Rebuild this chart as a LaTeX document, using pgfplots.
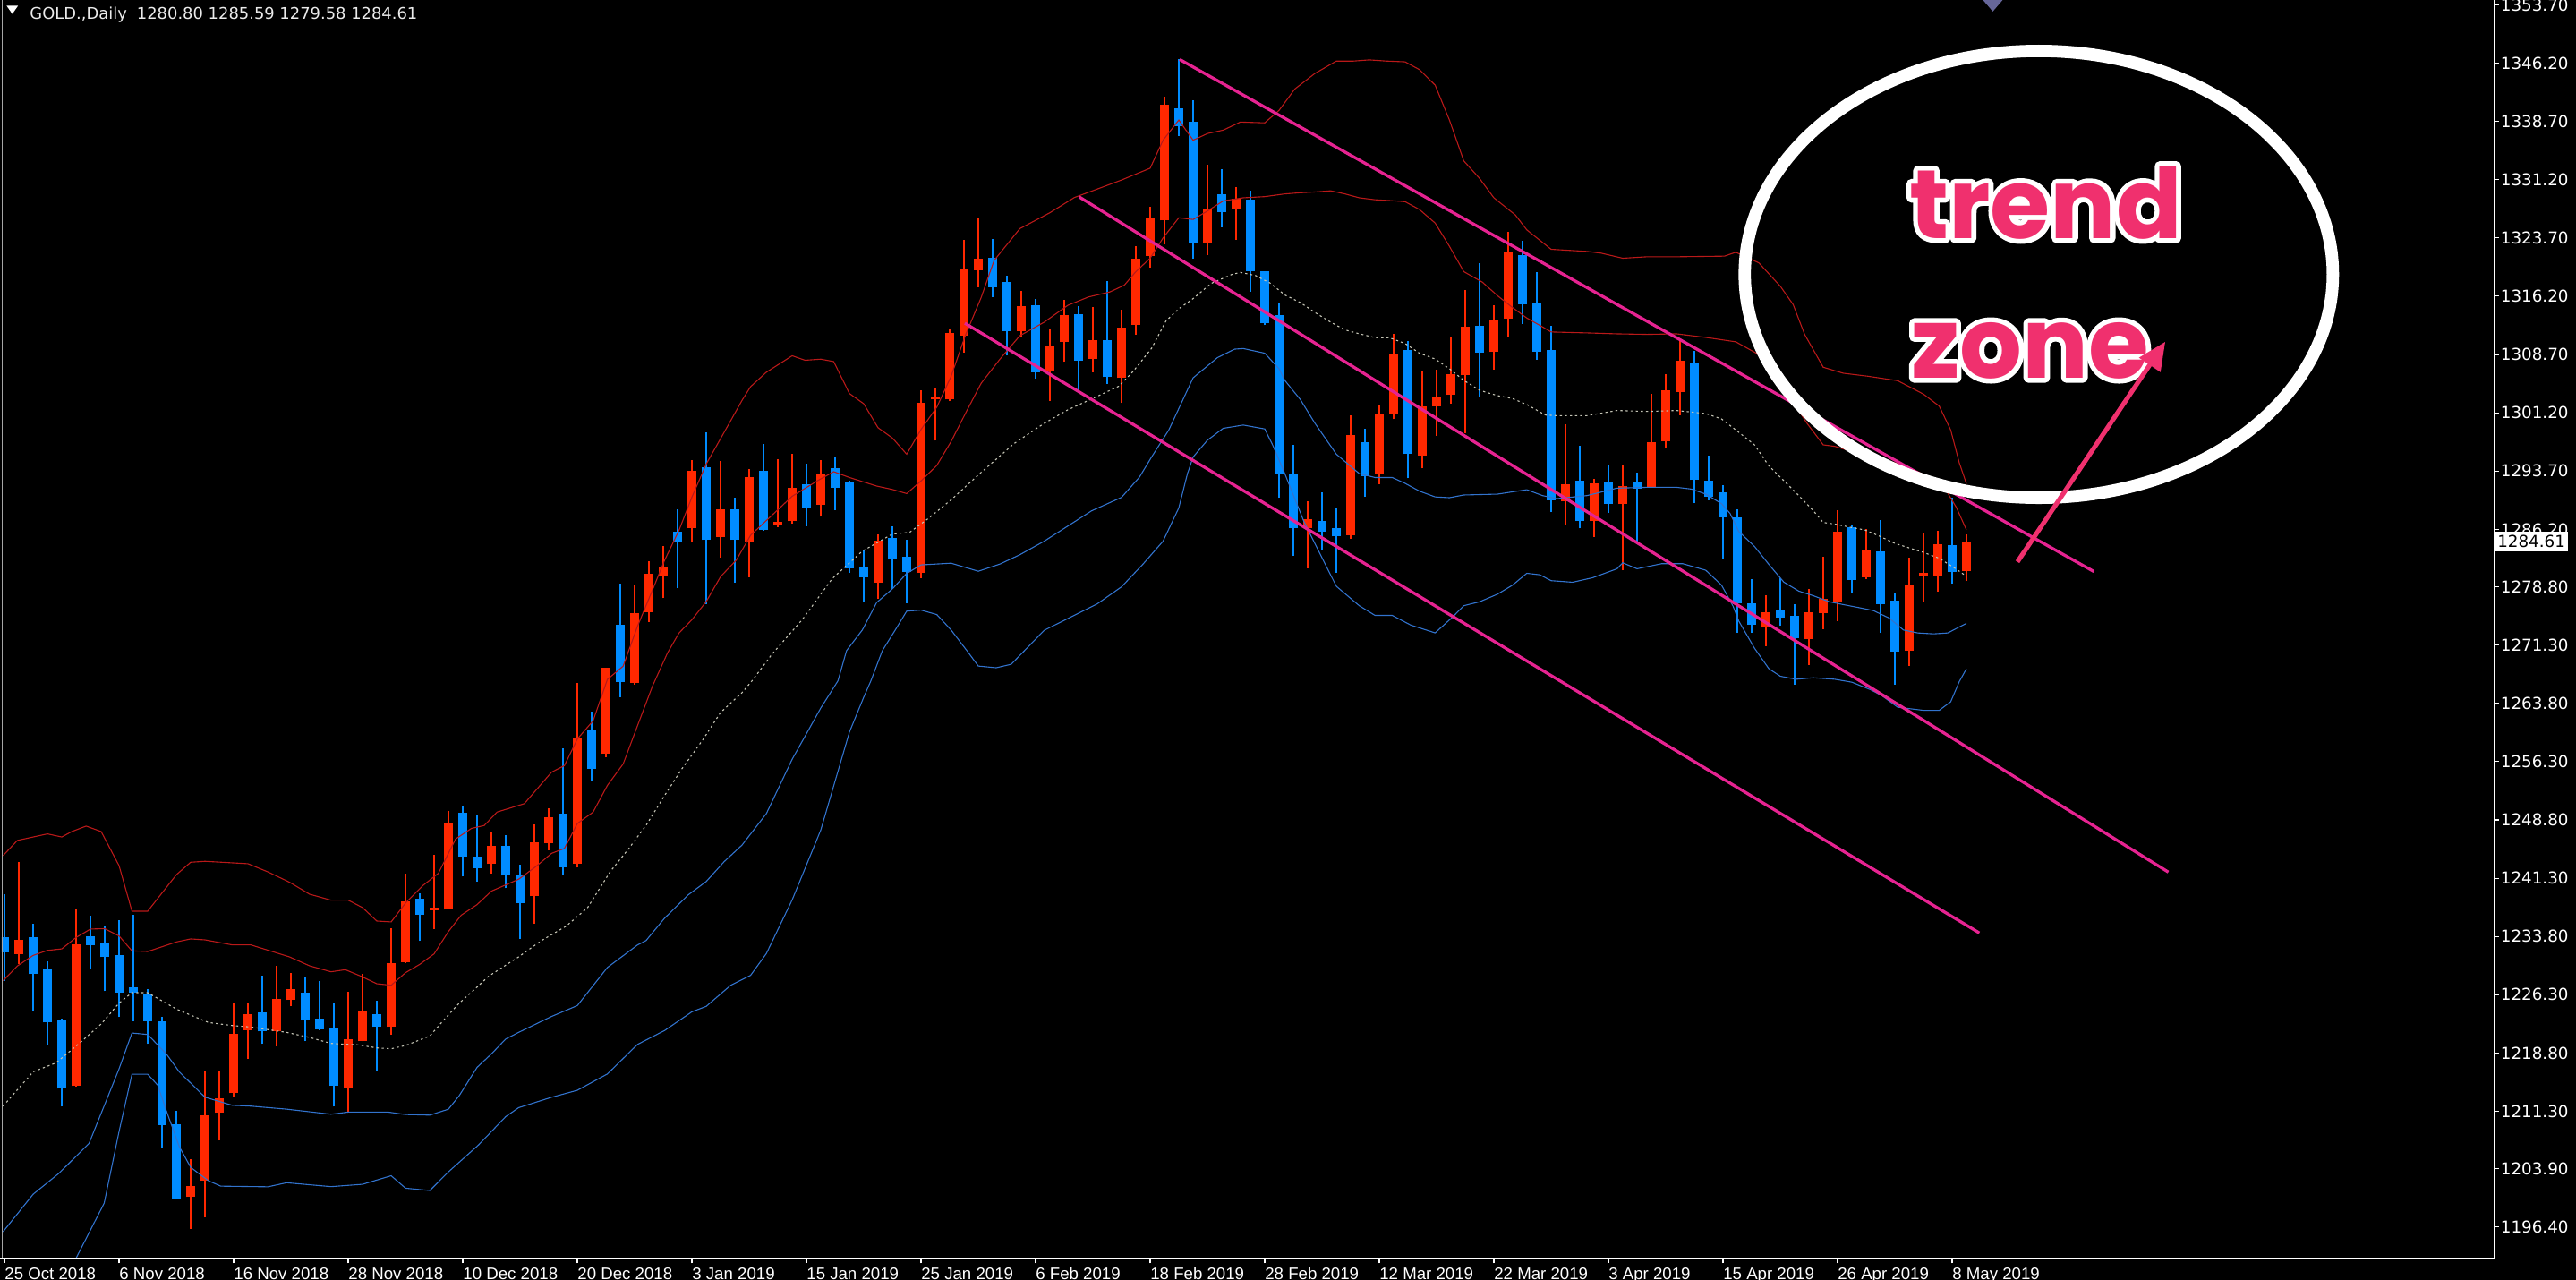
\documentclass[border=0pt]{standalone}
\usepackage{fontspec}
\usepackage{pgfplots}
\usepackage{pgfplotstable}
\pgfplotsset{compat=1.18}
\usetikzlibrary{arrows.meta}
\newfontfamily\axisfont{DejaVu Sans}
\newfontfamily\datefont{Liberation Sans}
\newfontfamily\trendfont{Poppins}
\definecolor{cRed}{RGB}{255,40,0}
\definecolor{cBlue}{RGB}{0,140,255}
\definecolor{bandRed}{RGB}{185,25,25}
\definecolor{bandBlue}{RGB}{50,115,205}
\definecolor{midGray}{RGB}{195,195,180}
\definecolor{priceGray}{RGB}{140,145,160}
\definecolor{trendPink}{RGB}{230,35,145}
\definecolor{textPink}{RGB}{240,48,110}

\pgfplotstableread{
x o h l c
1 1231.56 1243.39 1230.21 1233.40
5 1214.53 1237.44 1214.45 1232.82
13 1200.24 1205.16 1196.20 1201.70
14 1202.35 1216.57 1197.62 1210.80
15 1211.07 1216.45 1207.54 1212.92
16 1213.61 1225.33 1213.19 1221.30
17 1221.76 1225.21 1218.03 1223.76
19 1221.57 1230.02 1219.64 1225.79
20 1225.60 1229.13 1224.83 1227.06
24 1214.38 1226.67 1211.19 1220.60
25 1220.30 1228.98 1220.30 1224.22
27 1222.14 1234.90 1221.18 1230.40
28 1230.52 1241.93 1230.40 1238.28
30 1237.20 1244.35 1234.75 1237.45
31 1237.24 1250.00 1237.24 1248.39
34 1243.12 1247.24 1241.93 1245.50
37 1238.95 1248.20 1235.41 1245.86
38 1245.77 1250.34 1244.92 1249.10
40 1243.13 1266.46 1242.66 1259.42
42 1257.29 1268.40 1256.86 1268.38
44 1266.46 1279.04 1266.24 1275.41
45 1275.50 1282.15 1274.26 1280.53
46 1280.23 1284.07 1277.33 1281.38
48 1286.37 1295.12 1284.50 1293.75
50 1285.22 1295.03 1282.58 1288.72
52 1284.50 1294.00 1280.05 1292.90
54 1286.70 1295.21 1286.48 1287.20
55 1287.23 1295.87 1286.92 1291.55
57 1289.34 1295.08 1287.80 1293.31
61 1279.28 1285.50 1277.30 1284.71
64 1280.65 1304.12 1279.95 1302.45
65 1302.90 1304.48 1297.60 1303.15
66 1302.89 1311.93 1302.71 1311.49
67 1311.18 1323.45 1308.98 1319.79
68 1319.57 1326.32 1317.36 1321.02
71 1311.68 1316.89 1310.90 1314.89
73 1306.48 1311.99 1302.75 1309.82
74 1310.34 1315.68 1307.74 1313.81
76 1308.17 1314.81 1306.44 1310.56
78 1305.66 1314.46 1302.45 1312.16
79 1312.55 1322.61 1311.25 1321.01
80 1321.40 1327.69 1319.92 1326.30
81 1325.95 1341.83 1322.83 1340.83
84 1323.05 1333.11 1321.53 1327.47
86 1327.50 1330.20 1323.48 1328.80
91 1286.37 1289.77 1281.22 1287.52
94 1285.47 1300.87 1284.97 1298.37
96 1293.37 1302.27 1292.02 1301.12
97 1301.12 1311.37 1300.37 1308.77
99 1295.72 1306.47 1294.02 1301.97
100 1302.02 1306.77 1298.27 1303.27
101 1303.47 1311.02 1302.37 1306.12
102 1306.02 1316.97 1298.62 1312.27
104 1309.00 1315.00 1306.76 1313.17
105 1313.29 1324.47 1310.98 1321.86
109 1289.77 1299.76 1286.69 1291.96
111 1287.27 1292.65 1285.23 1292.07
113 1289.46 1294.46 1280.93 1291.80
115 1291.57 1303.68 1291.50 1297.38
116 1297.53 1306.22 1296.61 1304.06
117 1303.91 1310.71 1300.91 1307.94
123 1273.55 1277.66 1271.20 1275.55
126 1272.09 1278.55 1268.75 1275.55
127 1275.43 1282.66 1273.36 1277.20
128 1276.78 1288.69 1274.39 1285.92
130 1280.04 1286.19 1279.77 1283.43
133 1270.55 1282.54 1268.63 1278.93
134 1280.30 1285.81 1276.89 1280.55
135 1280.24 1286.04 1278.16 1284.31
137 1280.80 1285.59 1279.58 1284.61
}\uptable

\pgfplotstableread{
x o h l c
0 1233.70 1239.20 1228.10 1231.80
2 1233.75 1235.48 1224.18 1228.94
3 1229.71 1230.60 1219.84 1222.72
4 1223.10 1223.20 1211.88 1214.19
6 1233.86 1236.44 1229.63 1232.71
7 1232.94 1235.13 1226.75 1231.13
8 1231.44 1235.90 1223.41 1226.56
9 1227.25 1236.55 1222.91 1226.56
10 1226.37 1227.06 1219.95 1222.91
11 1222.91 1223.41 1206.58 1209.46
12 1209.65 1211.38 1199.93 1200.01
18 1224.06 1228.79 1219.95 1221.57
21 1226.60 1228.60 1220.33 1222.99
22 1223.25 1228.10 1221.76 1221.83
23 1222.03 1225.21 1211.88 1214.53
26 1223.83 1225.56 1216.57 1222.14
29 1238.67 1239.32 1233.21 1236.63
32 1249.70 1250.58 1241.51 1244.05
33 1244.12 1249.54 1240.89 1242.62
35 1245.50 1246.81 1240.01 1241.62
36 1241.60 1243.00 1233.50 1238.05
39 1249.61 1258.01 1241.63 1242.66
41 1260.36 1262.75 1253.88 1255.37
43 1273.92 1279.17 1264.62 1266.54
47 1285.95 1288.72 1278.61 1284.50
49 1294.18 1298.66 1276.57 1284.80
51 1288.72 1290.26 1279.34 1284.80
53 1293.76 1297.15 1286.03 1286.12
56 1291.99 1294.64 1286.56 1288.99
58 1294.07 1295.52 1288.68 1291.55
59 1292.21 1292.43 1280.61 1281.18
60 1281.27 1283.61 1276.77 1279.99
62 1285.06 1286.56 1278.53 1282.28
63 1282.72 1284.80 1276.68 1280.74
69 1321.11 1323.54 1316.12 1317.36
70 1318.02 1318.90 1308.54 1311.71
72 1315.02 1315.89 1305.57 1306.44
75 1313.85 1314.89 1303.75 1307.95
77 1310.56 1318.19 1304.96 1305.79
82 1340.40 1346.68 1336.84 1338.14
83 1338.66 1341.48 1321.01 1323.05
85 1329.34 1332.59 1325.09 1327.08
87 1328.60 1329.80 1316.76 1319.45
88 1319.37 1319.47 1312.47 1312.77
89 1313.77 1315.22 1290.22 1293.37
90 1293.37 1297.02 1282.77 1286.37
92 1287.27 1290.97 1283.52 1285.87
93 1286.37 1289.02 1280.62 1285.27
95 1297.37 1299.12 1290.37 1293.02
98 1309.27 1310.47 1292.77 1295.87
103 1312.35 1320.45 1303.23 1308.94
106 1321.47 1323.32 1312.63 1315.21
107 1315.25 1319.36 1308.02 1309.06
108 1309.25 1312.36 1288.42 1289.96
110 1292.46 1296.99 1286.31 1287.27
112 1292.19 1294.57 1288.31 1289.46
114 1292.19 1293.53 1284.39 1291.38
118 1307.64 1309.17 1289.58 1292.53
119 1292.46 1295.72 1289.96 1290.42
120 1290.92 1291.90 1282.47 1287.77
121 1287.77 1288.80 1272.86 1276.70
122 1276.70 1279.77 1272.93 1273.93
124 1275.78 1279.85 1273.74 1274.86
125 1275.09 1276.51 1266.21 1272.20
129 1286.50 1286.81 1278.05 1279.70
131 1283.31 1287.38 1272.86 1276.59
132 1277.08 1277.93 1266.21 1270.47
136 1284.19 1290.23 1279.20 1280.74
}\downtable

\begin{document}
\begin{tikzpicture}
\fill[black] (0,-13bp) rectangle (1568bp,766bp);
\begin{axis}[
  at={(1bp,0)}, anchor=south west,
  scale only axis, width=1517bp, height=766bp,
  xmin=-0.2, xmax=173.83, ymin=1192.35, ymax=1354.33,
  axis line style={draw=none},
  xtick={0,8,16,24,32,40,48,56,64,72,80,88,96,104,112,120,128,136},
  xticklabels={25 Oct 2018,6 Nov 2018,16 Nov 2018,28 Nov 2018,10 Dec 2018,20 Dec 2018,3 Jan 2019,15 Jan 2019,25 Jan 2019,6 Feb 2019,18 Feb 2019,28 Feb 2019,12 Mar 2019,22 Mar 2019,3 Apr 2019,15 Apr 2019,26 Apr 2019,8 May 2019},
  ytick={1196.4,1203.9,1211.3,1218.8,1226.3,1233.8,1241.3,1248.8,1256.3,1263.8,1271.3,1278.8,1286.2,1293.7,1301.2,1308.7,1316.2,1323.7,1331.2,1338.7,1346.2,1353.7},
  yticklabels={1196.40,1203.90,1211.30,1218.80,1226.30,1233.80,1241.30,1248.80,1256.30,1263.80,1271.30,1278.80,1286.20,1293.70,1301.20,1308.70,1316.20,1323.70,1331.20,1338.70,1346.20,1353.70},
  xtick pos=bottom, ytick pos=right, yticklabel pos=right,
  tick align=outside, major tick length=3bp,
  tick style={white, line width=0.6bp},
  xticklabel style={font=\datefont\fontsize{10.2}{12}\selectfont, text=white, anchor=north west, inner sep=0pt, yshift=-2.5bp},
  yticklabel style={font=\axisfont\fontsize{10}{12}\selectfont, text=white, anchor=west, inner sep=0pt, xshift=1bp},
]
% current price line
\addplot[priceGray, line width=0.6bp, forget plot] coordinates {(-1,1284.61) (175,1284.61)};

% candles: wicks and bodies
\addplot[draw=none, mark=none, forget plot, error bars/.cd, y dir=plus, y explicit, error mark=none, error bar style={draw=cRed, line width=0.8bp}]
  table[x=x, y=l, y error plus expr=\thisrow{h}-\thisrow{l}] {\uptable};
\addplot[draw=none, mark=none, forget plot, error bars/.cd, y dir=plus, y explicit, error mark=none, error bar style={draw=cBlue, line width=0.8bp}]
  table[x=x, y=l, y error plus expr=\thisrow{h}-\thisrow{l}] {\downtable};
\addplot[draw=none, mark=none, forget plot, error bars/.cd, y dir=plus, y explicit, error mark=none, error bar style={draw=cRed, line width=5.8bp}]
  table[x=x, y=o, y error plus expr=\thisrow{c}-\thisrow{o}] {\uptable};
\addplot[draw=none, mark=none, forget plot, error bars/.cd, y dir=plus, y explicit, error mark=none, error bar style={draw=cBlue, line width=5.8bp}]
  table[x=x, y=c, y error plus expr=\thisrow{o}-\thisrow{c}] {\downtable};

% Bollinger bands
\addplot[bandRed, line width=0.6bp] coordinates {(-0.1,1244.2) (0.9,1246.16) (3,1247.0) (4,1246.6) (4.7,1247.3) (5.7,1248.0) (6.75,1247.3) (8,1242.9) (8.9,1237.05) (10,1237.05) (12,1241.74) (13,1243.35) (14,1243.47) (17,1243.16) (18.4,1242.1) (19.9,1240.78) (21.3,1239.24) (22.8,1238.47) (24,1238.47) (25,1237.51) (26,1235.78) (27,1235.67) (28,1238.09) (29.25,1240.4) (30.3,1241.93) (31.5,1246.35) (32.6,1247.7) (33.5,1248.08) (34.4,1249.81) (36.3,1250.89) (38.2,1254.94) (39.1,1255.79) (40,1259.21) (41.1,1261.55) (42.1,1266.88) (43.2,1268.59) (44.2,1273.71) (45.25,1278.4) (46.1,1282.24) (47.1,1286.08) (48,1290.34) (49,1294.6) (50.7,1300.15) (51.5,1302.8) (52.1,1304.56) (53.2,1306.42) (55,1308.54) (55.9,1307.96) (57,1308.1) (57.9,1307.79) (59,1303.68) (60,1302.36) (61,1299.27) (62,1297.95) (63,1295.87) (64,1299.05) (65.1,1301.92) (66.1,1305.89) (67.1,1311.18) (68.2,1316.04) (69.1,1320.8) (70.9,1324.9) (73,1326.95) (74.7,1328.9) (76.3,1329.99) (78,1331.16) (80,1332.68) (80.9,1336.28) (82,1338.88) (83,1336.28) (84,1337.14) (85.1,1337.58) (86.3,1338.62) (88,1338.52) (89,1340.12) (90.1,1342.87) (91.5,1344.87) (93,1346.47) (94.2,1346.47) (95.3,1346.62) (96.5,1346.47) (97.8,1346.37) (98.8,1345.37) (99.9,1343.37) (100.9,1338.87) (101.9,1333.62) (103,1331.37) (104,1328.87) (105.5,1326.66) (106.3,1324.74) (108,1322.24) (110.5,1321.97) (111.5,1321.74) (113,1321.09) (114.7,1321.28) (116.75,1321.28) (120.1,1321.36) (120.9,1321.86) (122.5,1320.5) (124,1317.5) (124.9,1315.13) (125.7,1311.29) (127,1307.06) (128.4,1306.29) (130.1,1305.91) (132.2,1305.33) (134,1303.6) (135.1,1302.06) (135.9,1298.99) (136.5,1294.76) (137,1292.07)};
\addplot[bandRed, line width=0.6bp] coordinates {(-0.1,1228.1) (0.9,1230.0) (2,1231.36) (3,1232.0) (4,1232.2) (5,1233.67) (6,1234.75) (7,1234.8) (8,1233.86) (8.9,1231.94) (10,1231.86) (12,1233.09) (13,1233.48) (14,1233.36) (15.9,1232.71) (17.2,1232.71) (19.9,1231.17) (21.3,1230.02) (22.8,1229.25) (23.8,1229.52) (24.9,1228.67) (26,1227.71) (27,1227.52) (28,1229.13) (29,1230.21) (30,1231.56) (31,1234.44) (31.9,1236.55) (33,1237.9) (34,1239.63) (35.9,1241.16) (37.1,1242.78) (38.2,1244.49) (39.1,1245.13) (40,1248.33) (41.1,1249.8) (42.1,1253.24) (43.2,1256.0) (44.2,1260.91) (45.25,1266.03) (46.3,1270.3) (47.1,1272.85) (48,1274.56) (49,1276.9) (50,1280.1) (51.1,1282.24) (52.1,1285.44) (53.6,1288.02) (55,1290.45) (56.75,1292.43) (57.9,1293.62) (59,1292.87) (60.9,1291.77) (62,1291.33) (63,1290.8) (64,1292.43) (65.1,1294.42) (66.1,1297.5) (67.2,1301.48) (68.2,1305.0) (69.5,1308.08) (70.9,1311.12) (72.6,1312.86) (74.25,1315.03) (75.7,1316.11) (77.2,1316.76) (78.2,1317.63) (79,1319.36) (80,1321.1) (80.9,1323.7) (82,1326.3) (83,1326.08) (84,1327.17) (85.1,1328.47) (86.5,1328.87) (88,1329.02) (89.4,1329.37) (90.5,1329.52) (91.5,1329.62) (92.6,1329.77) (93.6,1329.37) (94.6,1328.87) (95.7,1328.62) (96.7,1328.52) (97.8,1328.37) (98.8,1327.37) (99.9,1325.62) (100.9,1322.62) (101.9,1319.37) (103.2,1318.01) (104.25,1316.28) (105.3,1314.75) (106.3,1313.4) (107.4,1312.25) (108,1311.6) (110.5,1311.48) (112.6,1311.36) (114.7,1311.29) (116.75,1311.36) (118.8,1310.9) (120.9,1310.33) (122.4,1308.79) (124.2,1304.5) (125.9,1299.76) (127,1297.07) (127.8,1296.88) (130.3,1295.53) (132,1294.76) (133.6,1293.61) (135.3,1292.07) (136.3,1289.0) (137,1286.12)};
\addplot[midGray, line width=0.6bp, dash pattern=on 1.3bp off 1.8bp] coordinates {(-0.1,1211.96) (2,1216.38) (3.6,1217.53) (5.1,1219.84) (6.75,1222.53) (8,1225.22) (8.9,1226.56) (10,1226.56) (12,1224.45) (13,1223.68) (14.25,1222.72) (15.9,1222.33) (17.2,1222.14) (19.7,1221.45) (21.3,1220.8) (22.8,1220.03) (24.7,1219.84) (26,1219.45) (27,1219.34) (28,1219.76) (29.7,1220.99) (30.7,1223.1) (31.75,1225.21) (32.8,1226.94) (33.8,1228.67) (35.9,1231.17) (37.5,1233.27) (39.2,1235.1) (40.7,1237.46) (42.3,1242.15) (43.6,1245.13) (44.8,1248.1) (46.1,1251.96) (47.3,1255.37) (48.8,1259.21) (50,1262.62) (51.5,1265.18) (52.2,1266.7) (53.6,1270.15) (55.7,1274.56) (57.8,1279.86) (59.9,1283.39) (62,1285.59) (63.2,1285.81) (64.5,1287.58) (66.1,1290.0) (68.2,1293.53) (70.5,1297.24) (72.6,1299.84) (74.25,1301.58) (76.3,1303.31) (77.8,1304.61) (78.8,1306.5) (80.1,1309.5) (81.1,1313.0) (82,1314.59) (83,1315.89) (84.25,1317.84) (85.7,1319.0) (86.3,1319.27) (87.35,1318.87) (88.4,1317.87) (89.4,1316.37) (90.5,1315.37) (91.5,1314.12) (92.6,1312.87) (93.6,1311.87) (94.6,1311.37) (95.7,1310.87) (96.7,1310.87) (97.8,1310.12) (98.8,1308.87) (99.9,1308.12) (100.9,1306.87) (101.9,1305.37) (103,1304.1) (104.25,1303.41) (105.3,1303.03) (106.3,1302.26) (107.6,1300.91) (108.4,1300.83) (110.5,1300.83) (112.6,1301.49) (114.7,1301.37) (116.75,1301.49) (118.8,1301.1) (119.9,1300.4) (120.9,1298.99) (122.2,1297.07) (123.2,1294.38) (124.25,1292.46) (125.3,1290.53) (126.3,1288.61) (127,1287.08) (127.8,1286.88) (128.8,1286.5) (129.9,1286.12) (130.9,1285.35) (132,1284.39) (133,1283.81) (134,1283.23) (135.1,1282.47) (136.1,1281.31) (137,1280.16)};
\addplot[bandBlue, line width=0.6bp] coordinates {(-0.1,1195.8) (2,1200.62) (3.8,1203.31) (5.9,1207.15) (8,1216.76) (8.9,1221.37) (10,1221.18) (11.3,1218.68) (12.2,1216.38) (14,1213.11) (15.9,1212.07) (17.2,1211.96) (19.7,1211.57) (22.8,1210.92) (24,1211.19) (26.8,1211.19) (28,1210.88) (29.7,1210.8) (31,1211.57) (31.75,1213.3) (33,1216.95) (34,1218.68) (35,1220.6) (35.9,1221.45) (38.2,1223.5) (40,1224.9) (42.1,1229.8) (44.2,1232.7) (44.8,1233.27) (46.1,1236.17) (47.75,1239.16) (49,1240.87) (50.25,1243.42) (51.5,1245.56) (53.2,1249.61) (55,1256.6) (57,1263.2) (58.2,1266.7) (58.8,1270.59) (59.9,1273.24) (60.9,1276.77) (62,1278.53) (63,1280.52) (64,1281.62) (66.1,1281.84) (68,1280.8) (69.5,1281.72) (70.9,1282.93) (72.6,1284.67) (74.25,1286.62) (75.9,1288.57) (78,1290.31) (79.25,1292.91) (80.1,1295.51) (81.3,1298.98) (83,1305.7) (84.7,1308.3) (85.9,1309.39) (86.5,1309.47) (88,1308.87) (89,1306.87) (89.4,1305.37) (90.5,1302.87) (91.5,1299.87) (93,1295.87) (94.6,1293.37) (95.7,1292.87) (96.9,1292.87) (97.8,1292.12) (98.8,1291.12) (99.9,1290.37) (100.9,1290.27) (101.9,1290.62) (104.25,1290.73) (106.3,1291.3) (107.4,1290.54) (108.4,1290.15) (110.5,1290.54) (112.6,1291.5) (114.7,1291.61) (116.75,1291.61) (117.8,1291.38) (118.8,1290.73) (119.9,1289.5) (120.5,1288.23) (121.1,1285.92) (122.2,1284.0) (123.2,1281.69) (124.25,1279.4) (125.3,1278.24) (126.3,1277.66) (127.4,1276.89) (128.4,1276.51) (129.5,1276.12) (130.5,1275.74) (131.6,1274.78) (132.6,1273.24) (133.6,1272.86) (134.7,1272.74) (135.7,1272.86) (136.3,1273.44) (137,1274.09)};
\addplot[bandBlue, line width=0.6bp] coordinates {(-0.1,1179.7) (3,1186.8) (5,1192.4) (6.96,1199.47) (8,1208.7) (8.9,1216.07) (10,1216.07) (10.7,1214.65) (11.3,1211.38) (12.2,1206.77) (13,1204.08) (14.25,1202.35) (15.1,1201.66) (18.4,1201.58) (19.7,1202.1) (22.8,1201.6) (25,1201.9) (27,1203.0) (28,1201.4) (29.7,1201.1) (31,1203.5) (33.1,1206.96) (35,1210.61) (35.9,1211.76) (38.2,1213.1) (40,1214.0) (42.1,1216.1) (44.2,1219.9) (46.1,1221.7) (48,1224.1) (49,1224.8) (50.7,1227.5) (52.1,1228.8) (53.2,1231.6) (55,1238.5) (57,1247.5) (59,1260.1) (60,1264.6) (60.5,1266.7) (61.3,1270.59) (62.2,1273.24) (63,1275.67) (64,1275.8) (65.1,1275.23) (66.1,1273.24) (67.2,1270.59) (68,1268.6) (69.25,1268.38) (70.3,1268.83) (72.6,1273.2) (76.3,1276.6) (78,1278.8) (79.5,1281.72) (80.9,1284.67) (82,1288.96) (82.6,1293.34) (83,1295.51) (84,1297.67) (85.1,1299.2) (86.5,1299.62) (88,1299.12) (88.6,1296.87) (89.4,1293.37) (90.7,1287.37) (91.5,1284.37) (93,1278.87) (94.6,1276.37) (95.7,1275.12) (96.9,1275.12) (98.2,1273.87) (99.9,1272.87) (101.1,1274.87) (101.9,1276.37) (103,1276.87) (104.25,1277.85) (105.3,1279.01) (106.3,1280.54) (107.2,1280.35) (108,1279.59) (109.5,1279.39) (110.9,1279.97) (112.6,1281.12) (113,1281.89) (114,1281.12) (115.7,1281.77) (117.2,1281.77) (118.8,1280.93) (119.9,1279.01) (120.7,1276.32) (121.1,1274.4) (122.2,1270.9) (123.2,1268.27) (124,1267.29) (125.1,1266.9) (126.3,1267.09) (127.8,1266.9) (129,1266.52) (130.3,1265.56) (131.1,1264.79) (132.2,1263.3) (134,1262.9) (135.1,1262.9) (135.9,1264.0) (136.5,1266.6) (137,1268.25)};

% trend channel lines
\addplot[trendPink, line width=1.8bp] coordinates {(82.06,1346.68) (145.9,1280.76)};
\addplot[trendPink, line width=1.8bp] coordinates {(75.04,1328.99) (151.1,1242.08)};
\addplot[trendPink, line width=1.8bp] coordinates {(67.06,1312.73) (137.9,1234.25)};
\end{axis}

% frame lines
\draw[gray!70, line width=0.6bp] (1.4bp,0) -- (1.4bp,766bp);
\draw[white, line width=0.6bp] (0,0) -- (1518bp,0) -- (1518bp,766bp);

% title
\fill[white] (4bp,762.5bp) -- (11bp,762.5bp) -- (7.5bp,757.5bp) -- cycle;
\node[anchor=base west, inner sep=0pt, text=white!92!black, font=\axisfont\fontsize{9.8}{11}\selectfont] at (18bp,754.5bp) {GOLD.,Daily\hspace{6bp}1280.80 1285.59 1279.58 1284.61};
% shift marker
\fill[gray!80!blue] (1207bp,766bp) -- (1219bp,766bp) -- (1213bp,759bp) -- cycle;

% current price box
\node[anchor=west, fill=white, text=black, inner xsep=1.5bp, inner ysep=2bp, font=\axisfont\fontsize{10}{12}\selectfont] at (1518.5bp,436.4bp) {1284.61};

% annotation: ellipse, outlined text, arrow
\draw[white, line width=7.5bp] (1241bp,599bp) ellipse [x radius=179bp, y radius=136bp];
\node[anchor=base west, inner sep=0pt, text=white, font=\trendfont\bfseries\fontsize{59.5}{70}\selectfont] at (1162bp,621bp) {\special{pdf:literal direct 2 Tr 6 w 1 j}trend\special{pdf:literal direct 0 Tr}};
\node[anchor=base west, inner sep=0pt, text=white, font=\trendfont\bfseries\fontsize{60}{70}\selectfont] at (1163bp,536bp) {\special{pdf:literal direct 2 Tr 6 w 1 j}zone\special{pdf:literal direct 0 Tr}};
\node[anchor=base west, inner sep=0pt, text=textPink, font=\trendfont\bfseries\fontsize{59.5}{70}\selectfont] at (1162bp,621bp) {trend};
\node[anchor=base west, inner sep=0pt, text=textPink, font=\trendfont\bfseries\fontsize{60}{70}\selectfont] at (1163bp,536bp) {zone};
\draw[textPink, line width=2.8bp, -{Triangle[length=17bp, width=15bp]}] (1228bp,424bp) -- (1318bp,558bp);

\pgfresetboundingbox
\useasboundingbox (0,-13bp) rectangle (1568bp,766bp);
\end{tikzpicture}
\end{document}
